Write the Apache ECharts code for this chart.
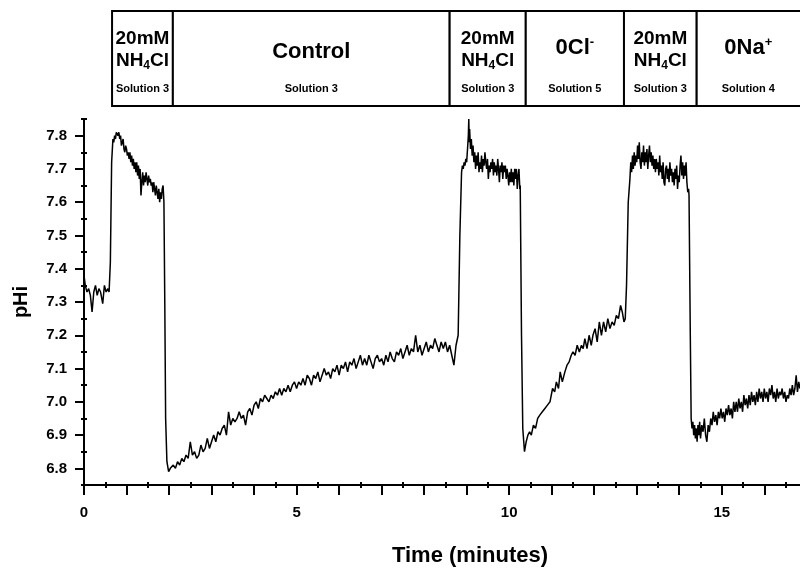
<!DOCTYPE html>
<html><head><meta charset="utf-8">
<script src="https://cdn.jsdelivr.net/npm/echarts@6/dist/echarts.min.js"></script>
<style>html,body{margin:0;padding:0;background:#fff}#c{width:800px;height:568px}</style>
</head><body><div id="c"></div>
<script>
// [time (min), pHi] pairs per experimental phase
const baseline = [[0,7.38],[0.03,7.35],[0.07,7.33],[0.11,7.34],[0.15,7.32],[0.19,7.27],[0.23,7.33],[0.27,7.35],[0.31,7.32],[0.35,7.34],[0.39,7.33],[0.44,7.295],[0.48,7.35],[0.52,7.33],[0.56,7.34],[0.59,7.33]];
const nh4Pulse1 = [[0.62,7.42],[0.65,7.72],[0.68,7.79],[0.70,7.78],[0.72,7.80],[0.74,7.79],[0.76,7.81],[0.78,7.815],[0.80,7.80],[0.82,7.81],[0.84,7.79],[0.86,7.80],[0.88,7.77],[0.90,7.78],[0.92,7.79],[0.94,7.76],[0.96,7.75],[0.98,7.77],[1.00,7.76],[1.02,7.74],[1.04,7.75],[1.06,7.73],[1.08,7.75],[1.10,7.72],[1.12,7.74],[1.14,7.71],[1.16,7.73],[1.18,7.70],[1.20,7.72],[1.22,7.69],[1.24,7.72],[1.26,7.68],[1.28,7.71],[1.30,7.67],[1.32,7.70],[1.34,7.62],[1.36,7.66],[1.38,7.69],[1.40,7.65],[1.42,7.68],[1.44,7.66],[1.46,7.69],[1.48,7.67],[1.50,7.65],[1.52,7.68],[1.54,7.66],[1.56,7.67],[1.58,7.65],[1.60,7.66],[1.62,7.63],[1.64,7.66],[1.66,7.64],[1.68,7.62],[1.70,7.65],[1.72,7.63],[1.74,7.61],[1.76,7.64],[1.78,7.60],[1.80,7.63],[1.82,7.61],[1.84,7.64],[1.86,7.65],[1.88,7.60]];
const recoveryControl = [[1.90,7.30],[1.92,6.95],[1.95,6.82],[1.99,6.79],[2.03,6.80],[2.1,6.81],[2.15,6.80],[2.2,6.82],[2.25,6.81],[2.3,6.83],[2.35,6.82],[2.4,6.84],[2.45,6.83],[2.5,6.88],[2.55,6.84],[2.6,6.85],[2.65,6.83],[2.7,6.84],[2.75,6.87],[2.8,6.85],[2.85,6.86],[2.9,6.89],[2.95,6.86],[3.0,6.88],[3.05,6.90],[3.1,6.88],[3.15,6.91],[3.2,6.90],[3.25,6.92],[3.3,6.93],[3.35,6.90],[3.4,6.97],[3.45,6.93],[3.5,6.95],[3.55,6.94],[3.6,6.95],[3.65,6.97],[3.7,6.95],[3.75,6.96],[3.8,6.93],[3.85,6.97],[3.9,6.98],[3.95,6.96],[4.0,6.99],[4.05,7.00],[4.1,6.98],[4.15,7.01],[4.2,7.00],[4.25,7.02],[4.3,7.01],[4.35,7.00],[4.4,7.02],[4.45,7.01],[4.5,7.03],[4.55,7.02],[4.6,7.04],[4.65,7.02],[4.7,7.04],[4.75,7.03],[4.8,7.05],[4.85,7.03],[4.9,7.05],[4.95,7.06],[5.0,7.04],[5.05,7.06],[5.1,7.05],[5.15,7.07],[5.2,7.05],[5.25,7.08],[5.3,7.07],[5.35,7.05],[5.4,7.08],[5.45,7.07],[5.5,7.09],[5.55,7.06],[5.6,7.08],[5.65,7.10],[5.7,7.08],[5.75,7.09],[5.8,7.07],[5.85,7.10],[5.9,7.09],[5.95,7.11],[6.0,7.08],[6.05,7.11],[6.1,7.10],[6.15,7.12],[6.2,7.09],[6.25,7.12],[6.3,7.11],[6.35,7.13],[6.4,7.10],[6.45,7.12],[6.5,7.14],[6.55,7.11],[6.6,7.13],[6.65,7.11],[6.7,7.14],[6.75,7.12],[6.8,7.10],[6.85,7.13],[6.9,7.14],[6.95,7.12],[7.0,7.13],[7.05,7.11],[7.1,7.14],[7.15,7.12],[7.2,7.15],[7.25,7.13],[7.3,7.12],[7.35,7.15],[7.4,7.14],[7.45,7.16],[7.5,7.13],[7.55,7.15],[7.6,7.17],[7.65,7.14],[7.7,7.16],[7.75,7.15],[7.8,7.20],[7.85,7.15],[7.9,7.17],[7.95,7.14],[8.0,7.16],[8.05,7.18],[8.1,7.15],[8.15,7.17],[8.2,7.16],[8.25,7.19],[8.3,7.17],[8.35,7.15],[8.4,7.18],[8.45,7.16],[8.5,7.18],[8.55,7.15],[8.6,7.17],[8.65,7.14],[8.7,7.11],[8.75,7.17],[8.8,7.20]];
const nh4Pulse2 = [[8.84,7.50],[8.88,7.69],[8.90,7.71],[8.92,7.70],[8.94,7.72],[8.96,7.71],[8.98,7.73],[9.00,7.72],[9.02,7.76],[9.04,7.80],[9.05,7.85],[9.06,7.78],[9.07,7.82],[9.09,7.76],[9.11,7.79],[9.13,7.74],[9.15,7.77],[9.17,7.72],[9.19,7.75],[9.21,7.70],[9.23,7.74],[9.25,7.71],[9.27,7.75],[9.29,7.69],[9.31,7.72],[9.33,7.70],[9.35,7.74],[9.37,7.69],[9.39,7.73],[9.41,7.71],[9.43,7.75],[9.45,7.72],[9.47,7.70],[9.49,7.73],[9.51,7.67],[9.53,7.71],[9.55,7.69],[9.57,7.72],[9.59,7.70],[9.61,7.73],[9.63,7.68],[9.65,7.72],[9.67,7.69],[9.69,7.71],[9.71,7.68],[9.73,7.73],[9.75,7.70],[9.77,7.66],[9.79,7.71],[9.81,7.69],[9.83,7.72],[9.85,7.67],[9.87,7.71],[9.89,7.69],[9.91,7.71],[9.93,7.67],[9.95,7.70],[9.97,7.68],[9.99,7.65],[10.01,7.69],[10.03,7.66],[10.05,7.70],[10.07,7.66],[10.09,7.69],[10.11,7.65],[10.13,7.70],[10.15,7.67],[10.17,7.70],[10.19,7.64],[10.21,7.68],[10.23,7.70],[10.25,7.64],[10.26,7.65]];
const recovery0Cl = [[10.29,7.20],[10.32,6.92],[10.36,6.85],[10.40,6.88],[10.44,6.90],[10.48,6.91],[10.52,6.90],[10.57,6.93],[10.62,6.92],[10.67,6.95],[10.72,6.96],[10.78,6.97],[10.84,6.98],[10.90,6.99],[10.96,7.00],[11.02,7.04],[11.07,7.03],[11.11,7.06],[11.16,7.04],[11.20,7.09],[11.25,7.06],[11.31,7.09],[11.36,7.11],[11.41,7.12],[11.46,7.14],[11.50,7.15],[11.55,7.14],[11.60,7.17],[11.65,7.15],[11.70,7.17],[11.74,7.16],[11.78,7.19],[11.83,7.16],[11.88,7.20],[11.93,7.17],[11.97,7.20],[12.02,7.22],[12.07,7.18],[12.12,7.24],[12.17,7.20],[12.22,7.24],[12.27,7.21],[12.32,7.25],[12.37,7.22],[12.42,7.24],[12.47,7.23],[12.52,7.26],[12.57,7.25],[12.62,7.29],[12.66,7.27],[12.70,7.24],[12.73,7.25]];
const nh4Pulse3 = [[12.76,7.35],[12.80,7.60],[12.84,7.67],[12.86,7.72],[12.88,7.69],[12.90,7.74],[12.92,7.70],[12.94,7.75],[12.96,7.71],[12.98,7.74],[13.00,7.72],[13.02,7.77],[13.04,7.73],[13.06,7.78],[13.08,7.72],[13.10,7.70],[13.12,7.75],[13.14,7.72],[13.16,7.77],[13.18,7.71],[13.20,7.75],[13.22,7.72],[13.24,7.76],[13.26,7.70],[13.28,7.74],[13.30,7.77],[13.32,7.72],[13.34,7.75],[13.36,7.71],[13.38,7.74],[13.40,7.70],[13.42,7.73],[13.44,7.69],[13.46,7.73],[13.48,7.70],[13.50,7.72],[13.52,7.68],[13.54,7.74],[13.56,7.69],[13.58,7.71],[13.60,7.67],[13.62,7.72],[13.64,7.66],[13.66,7.65],[13.68,7.70],[13.70,7.71],[13.72,7.67],[13.74,7.70],[13.76,7.66],[13.78,7.72],[13.80,7.68],[13.82,7.70],[13.84,7.66],[13.86,7.69],[13.88,7.65],[13.90,7.70],[13.92,7.67],[13.94,7.71],[13.96,7.64],[13.98,7.68],[14.00,7.66],[14.02,7.71],[14.04,7.74],[14.06,7.68],[14.08,7.72],[14.10,7.67],[14.12,7.71],[14.14,7.68],[14.16,7.72],[14.18,7.66],[14.20,7.63],[14.22,7.64],[14.23,7.62]];
const recovery0Na = [[14.26,7.20],[14.28,6.95],[14.30,6.92],[14.32,6.94],[14.34,6.90],[14.36,6.93],[14.38,6.89],[14.40,6.92],[14.42,6.88],[14.44,6.93],[14.46,6.90],[14.48,6.94],[14.50,6.89],[14.53,6.93],[14.56,6.91],[14.59,6.95],[14.62,6.90],[14.65,6.88],[14.68,6.93],[14.71,6.91],[14.74,6.95],[14.77,6.93],[14.80,6.97],[14.83,6.94],[14.86,6.96],[14.89,6.93],[14.92,6.97],[14.95,6.95],[14.98,6.98],[15.01,6.95],[15.04,6.97],[15.07,6.94],[15.10,6.98],[15.13,6.96],[15.16,6.99],[15.19,6.96],[15.22,6.98],[15.25,6.95],[15.28,7.00],[15.31,6.97],[15.34,7.00],[15.37,6.97],[15.40,7.01],[15.43,6.98],[15.46,7.00],[15.49,6.97],[15.52,7.02],[15.55,6.99],[15.58,7.01],[15.61,6.98],[15.64,7.02],[15.67,6.99],[15.70,7.03],[15.73,7.00],[15.76,7.02],[15.79,6.99],[15.82,7.03],[15.85,7.00],[15.88,7.04],[15.91,7.01],[15.94,7.03],[15.97,7.00],[16.00,7.04],[16.03,7.01],[16.06,7.03],[16.09,7.00],[16.12,7.04],[16.15,7.02],[16.18,7.05],[16.21,7.01],[16.24,7.03],[16.27,7.00],[16.30,7.04],[16.33,7.01],[16.36,7.03],[16.39,7.02],[16.42,7.04],[16.45,7.01],[16.48,7.03],[16.51,7.00],[16.54,7.02],[16.57,7.01],[16.60,7.04],[16.63,7.02],[16.66,7.05],[16.69,7.02],[16.72,7.04],[16.75,7.08],[16.78,7.03],[16.81,7.06],[16.84,7.04]];

const xLabelTicks = [0, 5, 10, 15];
const xMajorTicks = [0,1,2,3,4,5,6,7,8,9,10,11,12,13,14,15,16];
const xMinorTicks = [0.5,1.5,2.5,3.5,4.5,5.5,6.5,7.5,8.5,9.5,10.5,11.5,12.5,13.5,14.5,15.5,16.5];
const yLabelTicks = [6.8,6.9,7.0,7.1,7.2,7.3,7.4,7.5,7.6,7.7,7.8];
const yMinorTicks = [6.75,6.85,6.95,7.05,7.15,7.25,7.35,7.45,7.55,7.65,7.75,7.85];

const boxStart = [0.66, 2.09, 8.6, 10.39, 12.7, 14.41];
const boxEnd = [2.09, 8.6, 10.39, 12.7, 14.41, 17.3];
const boxTitle = ['20mM\nNH{sub|4}Cl', '{big|Control}', '20mM\nNH{sub|4}Cl', '{ion|0Cl}{sup|-}', '20mM\nNH{sub|4}Cl', '{ion|0Na}{sup|+}'];
const boxSolution = ['Solution 3', 'Solution 3', 'Solution 3', 'Solution 5', 'Solution 3', 'Solution 4'];

const FF = '"Liberation Sans", Arial, Helvetica, sans-serif';
const XMAX = 16.84;
const trace = [].concat(baseline, nh4Pulse1, recoveryControl, nh4Pulse2, recovery0Cl, nh4Pulse3, recovery0Na);
const chart = echarts.init(document.getElementById('c'), null, {renderer: 'canvas'});

function valAxis(extra) {
  return Object.assign({
    type: 'value', splitLine: {show: false},
    axisLine: {show: false}, axisTick: {show: false}, axisLabel: {show: false}
  }, extra);
}
const tickStyle = {color: '#000', width: 2};
const labelStyle = {color: '#000', fontSize: 15, fontWeight: 'bold', fontFamily: FF};

chart.setOption({
  animation: false,
  backgroundColor: '#fff',
  grid: [
    {left: 84, right: 0, top: 119, bottom: 83},
    {left: 84, right: 0, top: 11, height: 95}
  ],
  xAxis: [
    valAxis({gridIndex: 0, min: 0, max: XMAX, position: 'bottom',
      axisLine: {show: true, lineStyle: {color: '#000', width: 2}},
      axisTick: {show: true, customValues: xMajorTicks, length: 10, lineStyle: tickStyle},
      axisLabel: Object.assign({show: true, customValues: xLabelTicks, margin: 20}, labelStyle)}),
    valAxis({gridIndex: 0, min: 0, max: XMAX, position: 'bottom',
      axisTick: {show: true, customValues: xMinorTicks, length: 3, lineStyle: tickStyle}}),
    valAxis({gridIndex: 0, min: 0, max: XMAX, position: 'bottom',
      axisTick: {show: true, inside: true, customValues: xMinorTicks, length: 3, lineStyle: tickStyle}}),
    valAxis({gridIndex: 1, min: 0, max: XMAX, show: false})
  ],
  yAxis: [
    valAxis({gridIndex: 0, min: 6.75, max: 7.85, position: 'left',
      axisLine: {show: true, lineStyle: {color: '#000', width: 2}},
      axisTick: {show: true, customValues: yLabelTicks, length: 9, lineStyle: tickStyle},
      axisLabel: Object.assign({show: true, customValues: yLabelTicks, margin: 17,
        formatter: v => v.toFixed(1)}, labelStyle)}),
    valAxis({gridIndex: 0, min: 6.75, max: 7.85, position: 'left',
      axisTick: {show: true, customValues: yMinorTicks, length: 3, lineStyle: tickStyle}}),
    valAxis({gridIndex: 0, min: 6.75, max: 7.85, position: 'left',
      axisTick: {show: true, inside: true, customValues: yMinorTicks, length: 3, lineStyle: tickStyle}}),
    valAxis({gridIndex: 1, min: 0, max: 1, show: false})
  ],
  graphic: [
    {type: 'text', x: 470, y: 556, style: {text: 'Time (minutes)', align: 'center', verticalAlign: 'middle',
      fill: '#000', font: 'bold 22px ' + FF}},
    {type: 'text', x: 21, y: 302, rotation: Math.PI / 2, style: {text: 'pHi', align: 'center', verticalAlign: 'middle',
      fill: '#000', font: 'bold 20px ' + FF}}
  ],
  series: [
    {
      type: 'line', xAxisIndex: 0, yAxisIndex: 0,
      data: trace,
      showSymbol: false, symbol: 'none',
      lineStyle: {color: '#000', width: 1.5},
      z: 5
    },
    {
      type: 'custom', xAxisIndex: 3, yAxisIndex: 3,
      data: boxStart.map((s, i) => [s, boxEnd[i], i]),
      renderItem: function (params, api) {
        const i = api.value(2);
        const p0 = api.coord([api.value(0), 1]);
        const p1 = api.coord([api.value(1), 0]);
        const pMax = api.coord([XMAX, 0]);
        const cx = (p0[0] + Math.min(p1[0], pMax[0])) / 2;
        const top = p0[1];
        const title = boxTitle[i];
        const isBig = title.indexOf('{big|') === 0;
        const twoLine = title.indexOf('\n') >= 0;
        return {
          type: 'group',
          children: [
            {type: 'rect', shape: {x: p0[0], y: p0[1], width: p1[0] - p0[0], height: p1[1] - p0[1]},
              style: {fill: '#fff', stroke: '#000', lineWidth: 2}},
            {type: 'text', x: cx, y: top + (twoLine ? 39 : (isBig ? 41 : 37)),
              style: {text: title, align: 'center', verticalAlign: 'middle', fill: '#000',
                fontFamily: FF, fontWeight: 'bold', fontSize: 19, lineHeight: 22,
                rich: {
                  sub: {fontFamily: FF, fontWeight: 'bold', fontSize: 12, verticalAlign: 'bottom', lineHeight: 22},
                  sup: {fontFamily: FF, fontWeight: 'bold', fontSize: 13, verticalAlign: 'top', lineHeight: 24},
                  ion: {fontFamily: FF, fontWeight: 'bold', fontSize: 22, lineHeight: 24},
                  big: {fontFamily: FF, fontWeight: 'bold', fontSize: 22, lineHeight: 24}
                }}},
            {type: 'text', x: cx, y: top + 78,
              style: {text: boxSolution[i], align: 'center', verticalAlign: 'middle', fill: '#000',
                fontFamily: FF, fontWeight: 'bold', fontSize: 11}}
          ]
        };
      },
      z: 3
    }
  ]
});
</script>
</body></html>
